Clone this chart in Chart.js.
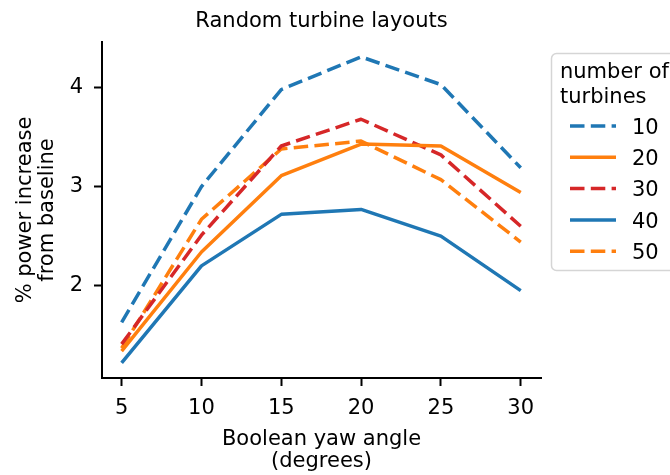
<!DOCTYPE html>
<html>
<head>
<meta charset="utf-8">
<script src="https://cdn.jsdelivr.net/npm/chart.js@4/dist/chart.umd.min.js"></script>
<style>
  html, body { margin: 0; padding: 0; background: #fff; }
  canvas { display: block; }
</style>
</head>
<body>
<canvas id="c" width="670" height="475"></canvas>
<script>
// ---- data ----
const chartTitle = 'Random turbine layouts';
const xLabel = ['Boolean yaw angle', '(degrees)'];
const yLabel = ['% power increase', 'from baseline'];
const legendTitle = ['number of', 'turbines'];

const angles = [5, 10, 15, 20, 25, 30];
const seriesNames = ['10', '20', '30', '40', '50'];
const t10 = [1.63, 3.00, 3.98, 4.31, 4.03, 3.19];
const t20 = [1.34, 2.34, 3.11, 3.43, 3.41, 2.94];
const t30 = [1.41, 2.51, 3.41, 3.68, 3.32, 2.60];
const t40 = [1.22, 2.20, 2.72, 2.77, 2.50, 1.95];
const t50 = [1.37, 2.67, 3.38, 3.46, 3.07, 2.44];

const xTicks = [5, 10, 15, 20, 25, 30];
const yTicks = [2, 3, 4];

// ---- styles ----
const BLUE = '#1f77b4', ORANGE = '#ff7f0e', RED = '#d62728';
const DASH = [14.5, 6.3];
const FONT = '"DejaVu Sans", "Liberation Sans", sans-serif';
const FS = 21;

const seriesValues = [t10, t20, t30, t40, t50];
const seriesColors = [BLUE, ORANGE, RED, BLUE, ORANGE];
const seriesDash = [DASH, [], DASH, [], DASH];

const datasets = seriesValues.map((vals, i) => ({
  label: seriesNames[i],
  data: angles.map((a, j) => ({ x: a, y: vals[j] })),
  borderColor: seriesColors[i],
  backgroundColor: seriesColors[i],
  borderDash: seriesDash[i],
  borderWidth: 3.5,
  borderCapStyle: 'butt',
  borderJoinStyle: 'round',
  pointRadius: 0,
  pointHoverRadius: 0,
  tension: 0,
  fill: false
}));

const decorPlugin = {
  id: 'decor',
  afterDraw(chart) {
    const ctx = chart.ctx;
    const a = chart.chartArea;
    ctx.save();
    ctx.fillStyle = '#000';
    ctx.font = FS + 'px ' + FONT;
    ctx.textBaseline = 'alphabetic';

    // title
    ctx.textAlign = 'center';
    const cx = (a.left + a.right) / 2;
    ctx.fillText(chartTitle, cx, 26.7);

    // x label
    ctx.fillText(xLabel[0], cx, 445);
    ctx.fillText(xLabel[1], cx, 467.3);

    // y label
    ctx.save();
    ctx.translate(31, (a.top + a.bottom) / 2);
    ctx.rotate(-Math.PI / 2);
    ctx.fillText(yLabel[0], 0, 0);
    ctx.fillText(yLabel[1], 0, 22.3);
    ctx.restore();

    // legend box
    const bx = 551.5, by = 53.5, bw = 140, bh = 217, r = 5;
    ctx.beginPath();
    ctx.moveTo(bx + r, by);
    ctx.lineTo(bx + bw, by);
    ctx.lineTo(bx + bw, by + bh);
    ctx.lineTo(bx + r, by + bh);
    ctx.arcTo(bx, by + bh, bx, by + bh - r, r);
    ctx.lineTo(bx, by + r);
    ctx.arcTo(bx, by, bx + r, by, r);
    ctx.closePath();
    ctx.fillStyle = 'rgba(255,255,255,0.85)';
    ctx.fill();
    ctx.strokeStyle = '#d5d5d5';
    ctx.lineWidth = 1.5;
    ctx.stroke();

    ctx.fillStyle = '#000';
    ctx.textAlign = 'left';
    ctx.fillText(legendTitle[0], 560, 78.3);
    ctx.fillText(legendTitle[1], 560, 102.5);

    chart.data.datasets.forEach((ds, i) => {
      const y = 126 + i * 31.3;
      ctx.save();
      ctx.beginPath();
      ctx.strokeStyle = ds.borderColor;
      ctx.lineWidth = ds.borderWidth;
      ctx.lineCap = 'butt';
      ctx.setLineDash(ds.borderDash || []);
      ctx.moveTo(570, y);
      ctx.lineTo(616, y);
      ctx.stroke();
      ctx.restore();
      ctx.fillStyle = '#000';
      ctx.fillText(ds.label, 632, y + 7.6);
    });
    ctx.restore();
  }
};

new Chart(document.getElementById('c'), {
  type: 'line',
  data: { datasets },
  options: {
    responsive: false,
    devicePixelRatio: 1,
    animation: false,
    events: [],
    layout: { padding: { left: 0, right: 129, top: 42, bottom: 0 } },
    plugins: { legend: { display: false }, title: { display: false }, tooltip: { enabled: false } },
    scales: {
      x: {
        type: 'linear',
        min: 3.77,
        max: 31.27,
        afterBuildTicks(scale) { scale.ticks = xTicks.map(v => ({ value: v })); },
        afterFit(scale) { scale.height = 97; },
        border: { display: true, color: '#000', width: 2 },
        grid: { display: true, drawOnChartArea: false, drawTicks: true, tickLength: 8, tickWidth: 2, tickColor: '#000', color: '#000' },
        ticks: { color: '#000', font: { family: FONT, size: FS }, padding: 10, maxRotation: 0, autoSkip: false }
      },
      y: {
        type: 'linear',
        min: 1.068,
        max: 4.46,
        afterBuildTicks(scale) { scale.ticks = yTicks.map(v => ({ value: v })); },
        afterFit(scale) { scale.width = 102; },
        border: { display: true, color: '#000', width: 2 },
        grid: { display: true, drawOnChartArea: false, drawTicks: true, tickLength: 8, tickWidth: 2, tickColor: '#000', color: '#000' },
        ticks: { color: '#000', font: { family: FONT, size: FS }, padding: 11, autoSkip: false }
      }
    }
  },
  plugins: [decorPlugin]
});
</script>
</body>
</html>
